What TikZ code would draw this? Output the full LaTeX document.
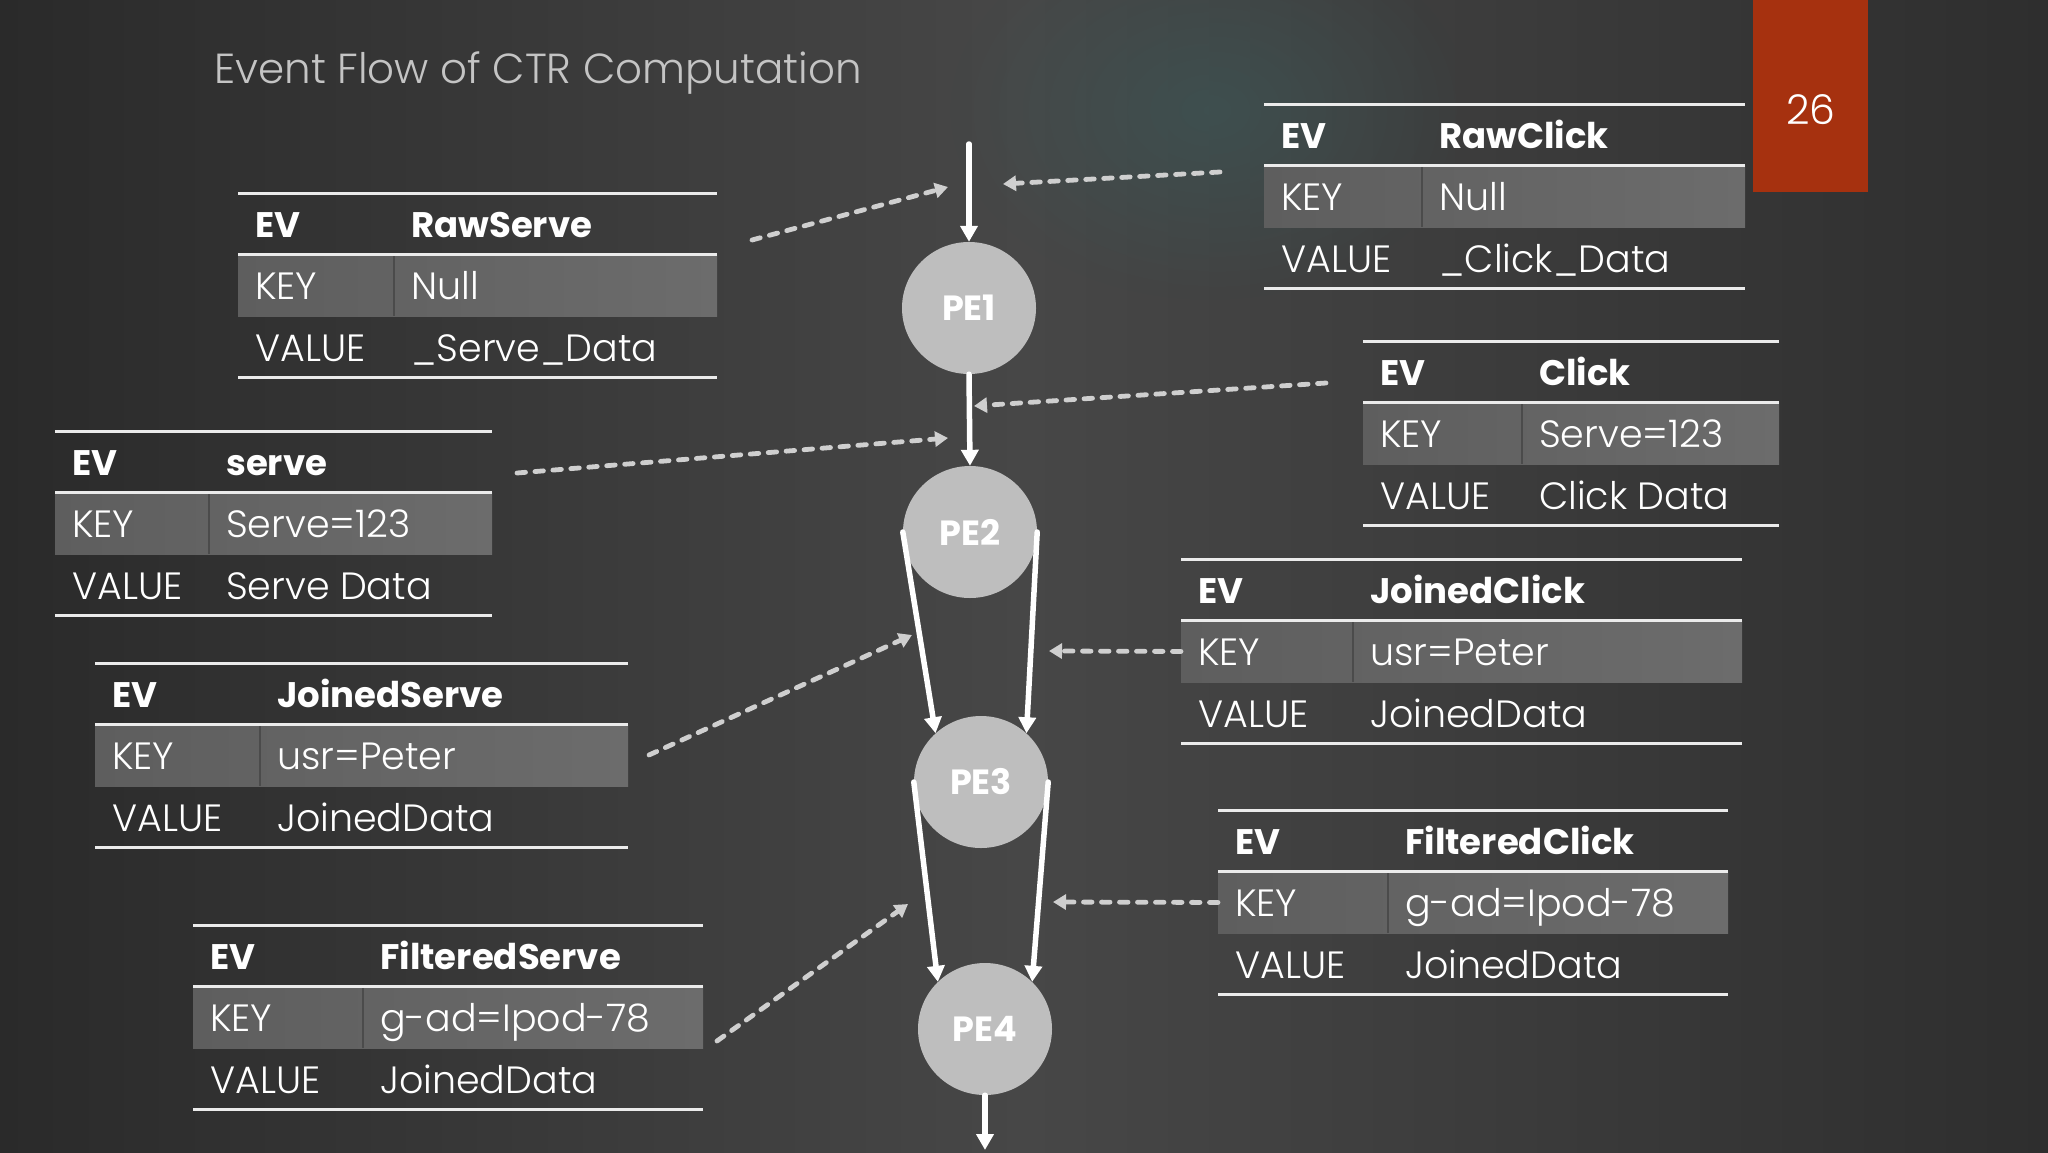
\documentclass[tikz,border=0pt]{standalone}
\usepackage{fontspec}
\setmainfont{Poppins Light}[BoldFont=Poppins Bold]
\usetikzlibrary{shapes.geometric,arrows.meta,fadings}

\definecolor{bgdark}{HTML}{2A2A2A}
\definecolor{bgmid}{HTML}{474747}
\definecolor{bgright}{HTML}{2E2E2E}
\definecolor{glow}{HTML}{3C5656}
\definecolor{keyleft}{HTML}{5E5E5E}
\definecolor{keyright}{HTML}{6C6C6C}
\definecolor{pegray}{HTML}{BEBEBE}
\definecolor{dashgray}{HTML}{CFCFCF}
\definecolor{numred}{HTML}{A6310F}
\definecolor{titlegray}{HTML}{C4C4C4}

\tikzfading[name=glowfade,inner color=transparent!35,outer color=transparent!100]

\tikzset{
  pe/.style={ellipse,fill=pegray,minimum width=134pt,minimum height=132pt,
    inner sep=0pt,text=white,font=\fontsize{35}{35}\selectfont\bfseries},
  flow/.style={white,line width=5.5pt,line cap=round,
    -{Triangle[length=16pt,width=17pt]}},
  feed/.style={dashgray,line width=4.8pt,line cap=round,dash pattern=on 8.5pt off 9.5pt,
    -{Triangle[length=13pt,width=15pt]}},
  rule/.style={white!92!black,line width=3pt},
  keyrow/.style={left color=keyleft,right color=keyright,minimum height=61.5pt,
    inner sep=0pt,anchor=north west},
  cell/.style={anchor=base west,text=white,inner sep=0pt,
    font=\fontsize{38}{38}\selectfont},
  head/.style={cell,font=\fontsize{35.5}{35.5}\selectfont\bfseries}
}

\begin{document}
\begin{tikzpicture}[x=1pt,y=-1pt]
\useasboundingbox (0,0) rectangle (2048,1152);

%%%% background
%%%%
\shade[left color=bgdark,right color=bgright,middle color=bgmid] (0,0) rectangle (2048,1152);
\begin{scope}
\clip (0,0) rectangle (2048,1152);
\fill[glow,path fading=glowfade] (1210,110) ellipse (260 and 190);
\end{scope}

\node[anchor=base west,text=titlegray,inner sep=0pt,font=\fontsize{42}{42}\selectfont]
  (title) at (214,83) {Event Flow of CTR Computation};

\fill[numred] (1753,0) rectangle (1868,192);
\node[text=white,inner sep=0pt,font=\fontsize{41}{41}\selectfont] (num) at (1811,110) {26};

%%%% event tables
%%%%
\foreach \n/\x/\y/\w/\o/\e/\k/\v in{
rawserve/238/193/479/173/RawServe/Null/\_Serve\_Data,
rawclick/1264/104/481/175/RawClick/Null/\_Click\_Data,
click/1363/341/416/176/Click/Serve=123/Click Data,
serve/55/431/437/171/serve/Serve=123/Serve Data,
joinedclick/1181/559/561/189/JoinedClick/usr=Peter/JoinedData,
joinedserve/95/663/533/182/JoinedServe/usr=Peter/JoinedData,
filteredclick/1218/810/510/187/FilteredClick/g-ad=Ipod-78/JoinedData,
filteredserve/193/925/510/187/FilteredServe/g-ad=Ipod-78/JoinedData%
}{
\node[keyrow,minimum width=\w pt] (\n) at (\x,\y+61.5) {};
\draw[keyleft!80!black,line width=1.5pt] (\x+\o-17,\y+61.5) -- ++(0,61.5);
\draw[rule] (\x,\y) -- ++(\w,0);
\draw[rule] (\x,\y+61.5) -- ++(\w,0);
\draw[rule] (\x,\y+184.5) -- ++(\w,0);
\node[head] (\n-ev) at (\x+17,\y+44) {EV};
\node[head] (\n-name) at (\x+\o,\y+44) {\e};
\node[cell] (\n-key) at (\x+17,\y+106) {KEY};
\node[cell] (\n-keyval) at (\x+\o,\y+106) {\k};
\node[cell] (\n-value) at (\x+17,\y+168) {VALUE};
\node[cell] (\n-valval) at (\x+\o,\y+168) {\v};
}

%%%% processing elements
%%%%
\node[pe] (pe1) at (969,308) {PE1};
\node[pe] (pe2) at (970,532) {PE2};
\node[pe] (pe3) at (981,782) {PE3};
\node[pe] (pe4) at (985,1029) {PE4};
\coordinate (in1) at (969,144);
\coordinate (out4) at (985,1150);

\foreach \u/\v in{
in1/pe1.north,pe1.south/pe2.north,pe2.west/pe3.133,pe2.east/pe3.47,%
pe3.west/pe4.135,pe3.east/pe4.45,pe4.south/out4%
}{
\draw[flow] (\u) -- (\v);
}

%%%% incoming events
%%%%
\foreach \i/\a/\b/\c/\d in{
1/752/240/948/187,2/1220/172/1003/184,3/1326/383/974/406,4/517/473/948/438,%
5/649/755/912/635,6/717/1041/908/904%
}{
\coordinate (s\i) at (\a,\b);
\coordinate (t\i) at (\c,\d);
\draw[feed] (s\i) -- (t\i);
}
\coordinate (t7) at (1049,651);
\coordinate (t8) at (1053,902);
\draw[feed] (joinedclick.west) -- (t7);
\draw[feed] (filteredclick.west) -- (t8);

\end{tikzpicture}
\end{document}
